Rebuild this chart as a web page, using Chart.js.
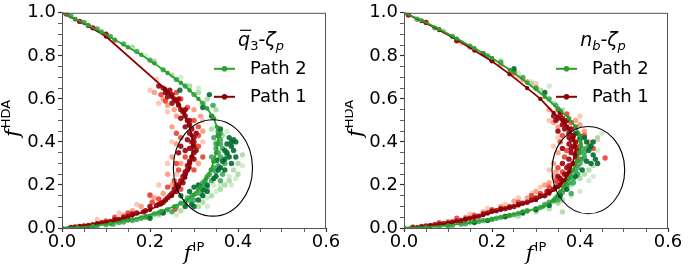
<!DOCTYPE html>
<html>
<head>
<meta charset="utf-8">
<script src="https://cdn.jsdelivr.net/npm/chart.js@4"></script>
<style>
body { margin: 0; background: #fff; }
canvas { position: absolute; top: 0; }
</style>
</head>
<body>
<canvas id="left" width="345" height="276" style="left:0px"></canvas>
<canvas id="right" width="352" height="276" style="left:345px"></canvas>
<script>
// tick labels
const X_TICKS = [0.0, 0.2, 0.4, 0.6];
const Y_TICKS = [0.0, 0.2, 0.4, 0.6, 0.8, 1.0];
const LEGEND_LABELS = ["Path 2", "Path 1"];

// ---------- left panel (q3-zeta_p) ----------
const L_P2_LINE = [[0,1],[0.03,0.972],[0.06,0.942],[0.09,0.91],[0.12,0.875],[0.15,0.84],[0.18,0.805],[0.21,0.765],[0.24,0.72],[0.27,0.675],[0.29,0.64],[0.31,0.6],[0.33,0.555],[0.345,0.51],[0.352,0.47],[0.355,0.43],[0.354,0.39],[0.35,0.35],[0.345,0.31],[0.338,0.27],[0.328,0.23],[0.315,0.19],[0.3,0.155],[0.28,0.125],[0.255,0.1],[0.225,0.078],[0.19,0.055],[0.15,0.035],[0.11,0.02],[0.07,0.009],[0.035,0.003],[0,0]];
const L_P1_LINE = [[0,1],[0.03,0.97],[0.06,0.94],[0.1,0.89],[0.235,0.645],[0.25,0.61],[0.265,0.575],[0.278,0.53],[0.288,0.48],[0.295,0.43],[0.297,0.38],[0.295,0.33],[0.29,0.28],[0.28,0.235],[0.265,0.19],[0.25,0.15],[0.225,0.11],[0.2,0.085],[0.16,0.058],[0.12,0.035],[0.08,0.02],[0.04,0.008],[0,0]];
const L_G_MID = [[0.02,0.985],[0.05,0.955],[0.08,0.925],[0.11,0.89],[0.14,0.855],[0.17,0.82],[0.2,0.78],[0.23,0.735],[0.26,0.69],[0.28,0.66],[0.3,0.62],[0.32,0.58],[0.355,0.45],[0.36,0.41],[0.35,0.39],[0.365,0.37],[0.355,0.35],[0.36,0.33],[0.345,0.31],[0.355,0.29],[0.34,0.27],[0.35,0.26],[0.33,0.24],[0.34,0.22],[0.32,0.21],[0.33,0.19],[0.31,0.18],[0.315,0.16],[0.295,0.15],[0.3,0.13],[0.28,0.12],[0.285,0.14],[0.37,0.3],[0.375,0.34],[0.365,0.25],[0.36,0.22],[0.26,0.1],[0.24,0.085],[0.25,0.075],[0.22,0.07],[0.2,0.055],[0.21,0.065],[0.18,0.045],[0.16,0.035],[0.17,0.04],[0.13,0.025],[0.1,0.015],[0.07,0.008],[0.04,0.003],[0.343,0.57],
    [0.27,0.115],[0.29,0.13],[0.305,0.16],[0.32,0.19],[0.325,0.22],[0.335,0.25],[0.345,0.28],[0.34,0.33],[0.35,0.37],[0.36,0.39],[0.345,0.42],[0.36,0.44],[0.23,0.075],[0.19,0.05],[0.14,0.028],[0.115,0.018],[0.08,0.01],[0.05,0.004]];
const L_G_DARK = [[0.38,0.42],[0.39,0.41],[0.395,0.4],[0.385,0.38],[0.375,0.39],[0.39,0.36],[0.37,0.36],[0.38,0.33],[0.395,0.33],[0.37,0.32],[0.385,0.3],[0.36,0.28],[0.37,0.27],[0.35,0.24],[0.33,0.2],[0.32,0.15],[0.33,0.17],[0.3,0.19],[0.31,0.2],[0.295,0.11],[0.3,0.1],[0.29,0.17],[0.27,0.15],[0.268,0.64],[0.32,0.56],[0.335,0.62],[0.34,0.52],[0.355,0.43],[0.36,0.46],[0.23,0.07],[0.2,0.045],[0.15,0.04],[0.352,0.315],[0.321,0.176],
    [0.385,0.4],[0.375,0.35],[0.365,0.31],[0.355,0.27],[0.345,0.23],[0.31,0.13],[0.28,0.1]];
const L_G_LIGHT = [[0.35,0.55],[0.33,0.6],[0.31,0.63],[0.29,0.66],[0.25,0.71],[0.4,0.3],[0.41,0.34],[0.4,0.25],[0.39,0.27],[0.38,0.22],[0.37,0.2],[0.36,0.18],[0.34,0.15],[0.32,0.12],[0.31,0.1],[0.27,0.08],[0.35,0.4],[0.34,0.46],[0.365,0.43],[0.22,0.06],[0.18,0.05],[0.12,0.02],[0.09,0.915],[0.16,0.84],[0.21,0.775]];
const L_G_PALE = [[0.41,0.29],[0.395,0.23],[0.38,0.24],[0.35,0.17],[0.36,0.2],[0.385,0.2],[0.345,0.2],[0.33,0.14],[0.31,0.65],[0.27,0.7],[0.19,0.8],[0.375,0.45],[0.345,0.57],[0.33,0.1],[0.26,0.06]];
const L_R_DARK = [[0.22,0.66],[0.23,0.65],[0.235,0.63],[0.245,0.64],[0.25,0.62],[0.24,0.61],[0.255,0.6],[0.26,0.59],[0.25,0.58],[0.265,0.57],[0.27,0.55],[0.275,0.54],[0.28,0.52],[0.27,0.51],[0.285,0.5],[0.29,0.48],[0.28,0.47],[0.295,0.46],[0.29,0.44],[0.3,0.42],[0.285,0.41],[0.295,0.4],[0.3,0.38],[0.29,0.37],[0.3,0.35],[0.295,0.33],[0.29,0.31],[0.285,0.29],[0.28,0.26],[0.275,0.24],[0.27,0.22],[0.26,0.2],[0.255,0.18],[0.25,0.16],[0.24,0.14],[0.23,0.12],[0.22,0.11],[0.2,0.1],[0.19,0.08],[0.17,0.07],[0.15,0.055],[0.13,0.04],[0.11,0.03],[0.09,0.025],[0.07,0.015],[0.05,0.01],[0.03,0.005],[0.27,0.38],[0.265,0.35],[0.28,0.36],[0.07,0.93],[0.1,0.9],[0.04,0.96],[0.01,0.995],
    [0.215,0.105],[0.225,0.115],[0.235,0.13],[0.245,0.15],[0.26,0.17],[0.265,0.2],[0.275,0.21],[0.28,0.25],[0.285,0.27],[0.29,0.3],[0.3,0.32],[0.305,0.36],[0.3,0.4],[0.305,0.44],[0.29,0.5],[0.28,0.55],[0.265,0.6],[0.24,0.63],[0.185,0.075],[0.16,0.065],[0.14,0.05],[0.12,0.038],[0.1,0.028],[0.08,0.02],[0.06,0.012],[0.04,0.007],[0.02,0.003]];
const L_R_MID = [[0.225,0.62],[0.26,0.63],[0.27,0.6],[0.285,0.56],[0.3,0.5],[0.31,0.47],[0.31,0.43],[0.26,0.44],[0.27,0.42],[0.31,0.38],[0.28,0.33],[0.26,0.3],[0.265,0.27],[0.3,0.27],[0.255,0.22],[0.27,0.18],[0.24,0.19],[0.22,0.135],[0.205,0.12],[0.2,0.153],[0.15,0.07],[0.12,0.05],[0.257,0.087],[0.32,0.33],[0.235,0.59]];
const L_R_SALMON = [[0.21,0.63],[0.23,0.6],[0.24,0.57],[0.255,0.55],[0.26,0.52],[0.3,0.55],[0.315,0.52],[0.32,0.45],[0.25,0.47],[0.26,0.39],[0.25,0.33],[0.27,0.3],[0.31,0.3],[0.24,0.25],[0.25,0.2],[0.23,0.16],[0.21,0.14],[0.18,0.1],[0.16,0.08],[0.14,0.06],[0.1,0.035],[0.12,0.87],[0.06,0.94]];
const L_R_PALE = [[0.2,0.64],[0.22,0.58],[0.24,0.54],[0.32,0.5],[0.25,0.4],[0.32,0.4],[0.24,0.3],[0.26,0.25],[0.22,0.2],[0.2,0.15],[0.17,0.11],[0.13,0.07],[0.08,0.04],[0.215,0.69]];

// ---------- right panel (n_b-zeta_p) ----------
const R_P2_LINE = [[0,1],[0.04,0.965],[0.08,0.925],[0.12,0.88],[0.16,0.835],[0.2,0.79],[0.24,0.735],[0.28,0.675],[0.32,0.61],[0.35,0.555],[0.375,0.51],[0.39,0.47],[0.4,0.43],[0.402,0.39],[0.398,0.35],[0.393,0.31],[0.385,0.27],[0.375,0.23],[0.365,0.2],[0.355,0.17],[0.34,0.13],[0.317,0.1],[0.28,0.078],[0.24,0.06],[0.2,0.042],[0.15,0.025],[0.1,0.012],[0.05,0.004],[0,0]];
const R_P1_LINE = [[0,1],[0.04,0.962],[0.08,0.92],[0.12,0.875],[0.16,0.825],[0.2,0.775],[0.24,0.715],[0.28,0.65],[0.31,0.6],[0.34,0.535],[0.36,0.5],[0.375,0.46],[0.385,0.42],[0.39,0.38],[0.388,0.34],[0.383,0.3],[0.375,0.26],[0.365,0.22],[0.35,0.19],[0.33,0.16],[0.3,0.13],[0.26,0.105],[0.22,0.085],[0.18,0.06],[0.14,0.04],[0.1,0.022],[0.06,0.01],[0.03,0.004],[0,0]];
const R_G_MID = [[0.03,0.97],[0.07,0.93],[0.11,0.89],[0.15,0.845],[0.19,0.8],[0.22,0.77],[0.25,0.73],[0.27,0.7],[0.3,0.65],[0.33,0.6],[0.345,0.57],[0.4,0.41],[0.405,0.37],[0.41,0.33],[0.4,0.3],[0.395,0.28],[0.41,0.35],[0.42,0.38],[0.39,0.26],[0.38,0.24],[0.385,0.21],[0.37,0.2],[0.36,0.165],[0.35,0.15],[0.34,0.125],[0.32,0.11],[0.31,0.095],[0.28,0.08],[0.26,0.068],[0.24,0.058],[0.22,0.05],[0.2,0.04],[0.17,0.03],[0.14,0.02],[0.11,0.013],[0.08,0.007],[0.35,0.13],[0.38,0.16],
    [0.395,0.25],[0.385,0.23],[0.375,0.21],[0.365,0.18],[0.345,0.14],[0.33,0.12],[0.3,0.09],[0.27,0.075],[0.25,0.062],[0.23,0.055],[0.21,0.045],[0.18,0.035],[0.16,0.028],[0.13,0.018],[0.1,0.011],[0.405,0.32],[0.415,0.37],[0.4,0.35]];
const R_G_DARK = [[0.43,0.4],[0.425,0.38],[0.42,0.36],[0.43,0.34],[0.435,0.32],[0.44,0.3],[0.425,0.3],[0.415,0.4],[0.41,0.42],[0.4,0.42],[0.39,0.44],[0.415,0.31],[0.405,0.27],[0.39,0.24],[0.37,0.18],[0.355,0.15],[0.33,0.105],[0.3,0.085],[0.27,0.07],[0.23,0.052],[0.19,0.035],[0.16,0.025],[0.32,0.63],[0.25,0.74],[0.18,0.81],[0.355,0.54]];
const R_G_LIGHT = [[0.44,0.42],[0.43,0.29],[0.42,0.27],[0.41,0.25],[0.4,0.23],[0.38,0.2],[0.36,0.13],[0.35,0.115],[0.33,0.09],[0.26,0.055],[0.3,0.075],[0.36,0.55],[0.37,0.5],[0.34,0.58],[0.31,0.64],[0.29,0.67],[0.09,0.915],[0.36,0.075]];
const R_G_PALE = [[0.45,0.44],[0.44,0.36],[0.43,0.24],[0.42,0.22],[0.4,0.17],[0.38,0.15],[0.29,0.68],[0.26,0.72],[0.33,0.66],[0.22,0.78]];
const R_R_DARK = [[0.34,0.52],[0.345,0.5],[0.355,0.53],[0.36,0.51],[0.365,0.49],[0.37,0.5],[0.37,0.47],[0.38,0.46],[0.375,0.44],[0.385,0.43],[0.38,0.41],[0.39,0.4],[0.375,0.39],[0.385,0.38],[0.395,0.36],[0.38,0.35],[0.39,0.33],[0.375,0.32],[0.385,0.3],[0.37,0.28],[0.38,0.27],[0.365,0.25],[0.37,0.23],[0.36,0.22],[0.355,0.2],[0.35,0.24],[0.36,0.3],[0.34,0.18],[0.33,0.17],[0.32,0.15],[0.3,0.14],[0.28,0.12],[0.27,0.115],[0.25,0.1],[0.23,0.09],[0.21,0.08],[0.19,0.07],[0.17,0.055],[0.15,0.045],[0.13,0.035],[0.11,0.028],[0.09,0.02],[0.07,0.015],[0.05,0.009],[0.02,0.004],[0.01,0.99],[0.05,0.955],[0.12,0.87],[0.2,0.78],[0.35,0.45],[0.36,0.37],
    [0.36,0.48],[0.375,0.42],[0.38,0.37],[0.39,0.34],[0.375,0.29],[0.37,0.25],[0.355,0.23],[0.345,0.19],[0.325,0.17],[0.31,0.15],[0.29,0.13],[0.26,0.11],[0.24,0.095],[0.22,0.09],[0.2,0.078],[0.18,0.065],[0.16,0.05],[0.14,0.042],[0.12,0.032],[0.1,0.024],[0.08,0.018],[0.06,0.012],[0.04,0.007],[0.35,0.51],[0.365,0.46]];
const R_R_MID = [[0.35,0.55],[0.37,0.53],[0.38,0.49],[0.39,0.47],[0.395,0.44],[0.4,0.41],[0.4,0.38],[0.36,0.43],[0.355,0.4],[0.37,0.36],[0.365,0.33],[0.4,0.32],[0.35,0.28],[0.36,0.26],[0.39,0.29],[0.345,0.22],[0.35,0.21],[0.33,0.19],[0.31,0.16],[0.29,0.15],[0.26,0.12],[0.24,0.1],[0.2,0.085],[0.16,0.06],[0.12,0.045],[0.08,0.025],[0.457,0.325],[0.43,0.37],[0.41,0.43],[0.3,0.65],[0.25,0.72]];
const R_R_SALMON = [[0.33,0.55],[0.34,0.49],[0.35,0.47],[0.39,0.5],[0.4,0.48],[0.41,0.45],[0.35,0.35],[0.34,0.3],[0.345,0.26],[0.34,0.24],[0.33,0.21],[0.32,0.2],[0.3,0.17],[0.28,0.14],[0.25,0.125],[0.22,0.1],[0.18,0.075],[0.14,0.05],[0.1,0.03],[0.28,0.68],[0.22,0.76],[0.15,0.84],[0.27,0.69],[0.42,0.4]];
const R_R_PALE = [[0.33,0.5],[0.35,0.42],[0.34,0.38],[0.33,0.27],[0.31,0.19],[0.29,0.16],[0.26,0.14],[0.23,0.11],[0.19,0.09],[0.15,0.065],[0.4,0.52],[0.3,0.67],[0.26,0.7],[0.13,0.86],[0.44,0.41]];

// colours
const GREEN_LINE = "#2ca02c", RED_LINE = "#8b0000";
const SHADES = {
    gDark: "rgba(0,109,44,0.9)", gMid: "rgba(49,163,84,0.85)", gLight: "rgba(161,217,155,0.85)", gPale: "rgba(199,233,192,0.8)",
    rDark: "rgba(153,0,13,0.9)", rMid: "rgba(230,55,40,0.85)", rSalmon: "rgba(252,146,114,0.85)", rPale: "rgba(252,187,161,0.8)"
};

const SANS = "'DejaVu Sans', sans-serif";
const toXY = arr => arr.map(p => ({ x: p[0], y: p[1] }));

function scatterSet(arr, color) {
    return { data: toXY(arr), backgroundColor: color, borderWidth: 0, pointRadius: 2.7, showLine: false };
}
function lineSet(arr, color) {
    return { data: toXY(arr), borderColor: color, backgroundColor: color, borderWidth: 1.8,
             pointRadius: 2.2, pointBorderWidth: 0, showLine: true, tension: 0 };
}

// draws a run of text pieces (math-like labels), centred on cx
function drawPieces(ctx, pieces, cx, baseline) {
    let total = 0;
    pieces.forEach(p => { ctx.font = p.f; p.w = ctx.measureText(p.t).width; total += p.w + (p.gap || 0); });
    let x = cx - total / 2;
    ctx.textAlign = "left";
    ctx.textBaseline = "alphabetic";
    pieces.forEach(p => {
        ctx.font = p.f;
        ctx.fillText(p.t, x, baseline + (p.dy || 0));
        if (p.bar) {
            ctx.beginPath();
            ctx.moveTo(x + 2, baseline - 15.5);
            ctx.lineTo(x + p.w + 1, baseline - 15.5);
            ctx.lineWidth = 1.2;
            ctx.stroke();
        }
        x += p.w + (p.gap || 0);
    });
}

const labelPieces = sup => [
    { t: "f", f: "italic 21px 'DejaVu Serif', serif", gap: 1 },
    { t: sup, f: "13px " + SANS, dy: -9 }
];

const decorPlugin = {
    id: "decor",
    afterDatasetsDraw(chart, args, opts) {
        const ctx = chart.ctx, a = chart.chartArea;
        const xs = chart.scales.x, ys = chart.scales.y;
        ctx.save();
        ctx.fillStyle = "#000";
        ctx.strokeStyle = "#000";

        // ellipse marking the crossing region
        const e = opts.ellipse;
        const cx = xs.getPixelForValue(e.x), cy = ys.getPixelForValue(e.y);
        const rx = Math.abs(xs.getPixelForValue(e.x + e.rx) - cx);
        const ry = Math.abs(ys.getPixelForValue(e.y + e.ry) - cy);
        ctx.beginPath();
        ctx.ellipse(cx, cy, rx, ry, 0, 0, Math.PI * 2);
        ctx.lineWidth = 1.1;
        ctx.stroke();

        // frame
        ctx.strokeStyle = "#555";
        ctx.lineWidth = 1;
        ctx.strokeRect(a.left + 0.5, a.top + 0.5, a.right - a.left - 1, a.bottom - a.top);

        // legend
        ctx.strokeStyle = "#000";
        drawPieces(ctx, opts.title, a.right - 65, a.top + 33);
        const rows = [{ c: GREEN_LINE, y: a.top + 56 }, { c: RED_LINE, y: a.top + 84 }];
        rows.forEach((r, i) => {
            ctx.strokeStyle = r.c;
            ctx.fillStyle = r.c;
            ctx.lineWidth = 2;
            ctx.beginPath();
            ctx.moveTo(a.right - 112, r.y);
            ctx.lineTo(a.right - 91, r.y);
            ctx.stroke();
            ctx.beginPath();
            ctx.arc(a.right - 101.5, r.y, 2.8, 0, Math.PI * 2);
            ctx.fill();
            ctx.fillStyle = "#000";
            ctx.font = "18px " + SANS;
            ctx.textAlign = "left";
            ctx.textBaseline = "middle";
            ctx.fillText(LEGEND_LABELS[i], a.right - 76, r.y + 1);
        });

        // axis titles
        ctx.fillStyle = "#000";
        drawPieces(ctx, labelPieces("IP"), (a.left + a.right) / 2, 260);
        ctx.translate(opts.yLabelX, (a.top + a.bottom) / 2 - 2);
        ctx.rotate(-Math.PI / 2);
        drawPieces(ctx, labelPieces("HDA"), 0, 0);
        ctx.restore();
    }
};

function isMajor(v, step) {
    return Math.abs(v / step - Math.round(v / step)) < 1e-6;
}

function makePanel(id, sets, decor, yWidth, padRight) {
    const datasets = [
        lineSet(sets.p2, GREEN_LINE),
        lineSet(sets.p1, RED_LINE),
        scatterSet(sets.rDark, SHADES.rDark),
        scatterSet(sets.gDark, SHADES.gDark),
        scatterSet(sets.gMid, SHADES.gMid),
        scatterSet(sets.rMid, SHADES.rMid),
        scatterSet(sets.rSalmon, SHADES.rSalmon),
        scatterSet(sets.gLight, SHADES.gLight),
        scatterSet(sets.rPale, SHADES.rPale),
        scatterSet(sets.gPale, SHADES.gPale)
    ];
    const tickFont = { family: SANS, size: 18 };
    return new Chart(document.getElementById(id), {
        type: "scatter",
        data: { datasets },
        options: {
            responsive: false,
            animation: false,
            devicePixelRatio: 1,
            layout: { padding: { top: 12, right: padRight, left: 0, bottom: 0 } },
            plugins: { legend: { display: false }, tooltip: { enabled: false }, decor },
            scales: {
                x: {
                    type: "linear", min: X_TICKS[0], max: X_TICKS[X_TICKS.length - 1],
                    border: { display: false },
                    grid: { drawOnChartArea: false, tickLength: 4, tickColor: "#333",
                            tickWidth: c => isMajor(c.tick.value, 0.2) ? 1.2 : 0.8 },
                    ticks: { stepSize: 0.05, autoSkip: false, maxRotation: 0, padding: 0, color: "#000", font: tickFont,
                             callback: v => X_TICKS.some(t => Math.abs(t - v) < 1e-6) ? v.toFixed(1) : "" },
                    afterFit: s => { s.height = 48; }
                },
                y: {
                    type: "linear", min: Y_TICKS[0], max: Y_TICKS[Y_TICKS.length - 1],
                    border: { display: false },
                    grid: { drawOnChartArea: false, tickLength: 4, tickColor: "#333",
                            tickWidth: c => isMajor(c.tick.value, 0.2) ? 1.2 : 0.8 },
                    ticks: { stepSize: 0.05, autoSkip: false, padding: 2, color: "#000", font: tickFont,
                             callback: v => Y_TICKS.some(t => Math.abs(t - v) < 1e-6) ? v.toFixed(1) : "" },
                    afterFit: s => { s.width = yWidth; }
                }
            }
        },
        plugins: [decorPlugin]
    });
}

const SUB = "13px " + SANS, IT = "italic 19px " + SANS, IT_SUB = "italic 13px " + SANS;

makePanel("left", {
    p2: L_P2_LINE, p1: L_P1_LINE,
    gDark: L_G_DARK, gMid: L_G_MID, gLight: L_G_LIGHT, gPale: L_G_PALE,
    rDark: L_R_DARK, rMid: L_R_MID, rSalmon: L_R_SALMON, rPale: L_R_PALE
}, {
    ellipse: { x: 0.343, y: 0.279, rx: 0.09, ry: 0.224 },
    title: [{ t: "q", f: IT, bar: true }, { t: "3", f: SUB, dy: 4 }, { t: "-", f: "19px " + SANS },
            { t: "ζ", f: IT }, { t: "p", f: IT_SUB, dy: 4 }],
    yLabelX: 19
}, 62, 19);

makePanel("right", {
    p2: R_P2_LINE, p1: R_P1_LINE,
    gDark: R_G_DARK, gMid: R_G_MID, gLight: R_G_LIGHT, gPale: R_G_PALE,
    rDark: R_R_DARK, rMid: R_R_MID, rSalmon: R_R_SALMON, rPale: R_R_PALE
}, {
    ellipse: { x: 0.419, y: 0.269, rx: 0.0826, ry: 0.203 },
    title: [{ t: "n", f: IT }, { t: "b", f: IT_SUB, dy: 4 }, { t: "-", f: "19px " + SANS },
            { t: "ζ", f: IT }, { t: "p", f: IT_SUB, dy: 4 }],
    yLabelX: 17
}, 59, 29);
</script>
</body>
</html>
